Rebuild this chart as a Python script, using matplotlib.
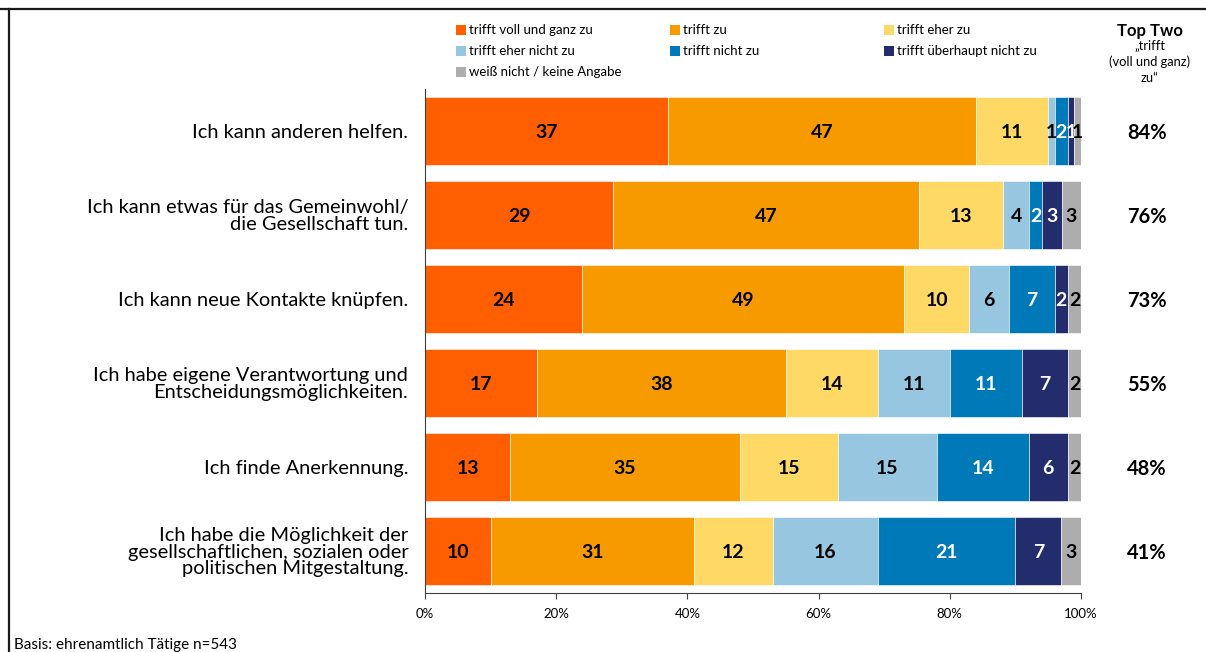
import numpy as np
import matplotlib
matplotlib.use('Agg')
from matplotlib import pyplot as plt
from matplotlib.patches import Rectangle
from matplotlib.lines import Line2D

plt.rcParams['font.family'] = ['Lato', 'DejaVu Sans']

#Data
statements = ['Ich kann anderen helfen.',
              'Ich kann etwas für das Gemeinwohl/\ndie Gesellschaft tun.',
              'Ich kann neue Kontakte knüpfen.',
              'Ich habe eigene Verantwortung und\nEntscheidungsmöglichkeiten.',
              'Ich finde Anerkennung.',
              'Ich habe die Möglichkeit der\ngesellschaftlichen, sozialen oder\npolitischen Mitgestaltung.']
answers = ['trifft voll und ganz zu', 'trifft zu', 'trifft eher zu',
           'trifft eher nicht zu', 'trifft nicht zu', 'trifft überhaupt nicht zu',
           'weiß nicht / keine Angabe']
vollUndGanz = [37, 29, 24, 17, 13, 10]
triffZu = [47, 47, 49, 38, 35, 31]
eherZu = [11, 13, 10, 14, 15, 12]
eherNicht = [1, 4, 6, 11, 15, 16]
nichtZu = [2, 2, 7, 11, 14, 21]
ueberhauptNicht = [1, 3, 2, 7, 6, 7]
weissNicht = [1, 3, 2, 2, 2, 3]
topTwo = [84, 76, 73, 55, 48, 41]
xTicks = [0, 20, 40, 60, 80, 100]

colors = ['#FF5F00', '#F79A00', '#FFD966', '#96C6E0', '#0079B8', '#232D6E', '#ADADAD']
labelColors = ['black', 'black', 'black', 'black', 'white', 'white', 'black']

series = np.array([vollUndGanz, triffZu, eherZu, eherNicht, nichtZu, ueberhauptNicht, weissNicht], dtype=float)
shares = series / series.sum(axis=0) * 100 #normalise each bar to 100 %

fig = plt.figure(figsize=(12.06, 6.52), dpi=100)
ax = fig.add_axes([425 / 1206, 1 - 593 / 652, 656 / 1206, 504 / 652])

y = np.arange(len(statements))
left = np.zeros(len(statements))
for k in range(len(answers)):
    ax.barh(y, shares[k], left=left, height=0.82, color=colors[k], edgecolor='white', linewidth=0.4)
    for i in range(len(statements)):
        ax.text(left[i] + shares[k][i] / 2, y[i], '%d' % series[k][i], ha='center', va='center_baseline',
                fontsize=14, fontweight='bold', color=labelColors[k])
    left += shares[k]

#Top two column
for i in range(len(statements)):
    ax.text(1.0 + 66 / 656, y[i], '%d%%' % topTwo[i], transform=ax.get_yaxis_transform(),
            ha='center', va='center_baseline', fontsize=14.5, fontweight='bold')

ax.set_xlim(0, 100)
ax.set_ylim(len(statements) - 0.5, -0.5)
ax.set_xticks(xTicks)
ax.set_xticklabels(['%d%%' % t for t in xTicks], fontsize=9.5)
ax.set_yticks(y)
ax.set_yticklabels(statements, fontsize=14.4, linespacing=0.95)
ax.tick_params(axis='y', length=0, pad=12)
ax.tick_params(axis='x', length=4, color='#404040', pad=7)
ax.spines['top'].set_visible(False)
ax.spines['right'].set_visible(False)
ax.spines['left'].set_color('#404040')
ax.spines['bottom'].set_color('#404040')

#Legend, three columns
for k in range(len(answers)):
    col, row = k % 3, k // 3
    lx = (456 + col * 214) / 1206
    ly = 1 - (30 + row * 21) / 652
    fig.add_artist(Rectangle((lx, ly - 5 / 652), 10 / 1206, 10 / 652, transform=fig.transFigure,
                             color=colors[k], lw=0))
    fig.text(lx + 13 / 1206, ly, answers[k], fontsize=9.5, va='center', ha='left')

fig.text(1150 / 1206, 1 - 31 / 652, 'Top Two', fontsize=12, fontweight='bold', ha='center', va='center')
fig.text(1150 / 1206, 1 - 62 / 652, '\u201etrifft\n(voll und ganz)\nzu\u201c', fontsize=9.3, ha='center',
         va='center', linespacing=1.4)

fig.text(14 / 1206, 1 - 645 / 652, 'Basis: ehrenamtlich Tätige n=543', fontsize=11, ha='left', va='center')

#Frame
fig.add_artist(Line2D([0, 1], [1 - 8.5 / 652, 1 - 8.5 / 652], transform=fig.transFigure, color='#1a1a1a', lw=1.6))
fig.add_artist(Line2D([9 / 1206, 9 / 1206], [0, 1 - 8.5 / 652], transform=fig.transFigure, color='#1a1a1a', lw=1.6))

fig.savefig('out.png', dpi=100)
plt.close('all')
